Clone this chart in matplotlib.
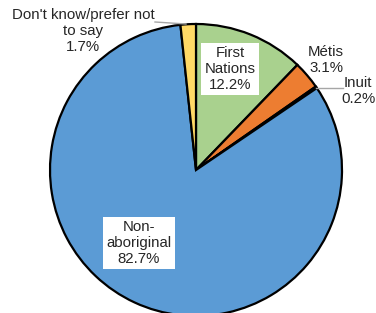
import matplotlib
matplotlib.use("Agg")
import matplotlib.pyplot as plt

labels = ["First\nNations", "Métis", "Inuit", "Non-\naboriginal", "Don't know/prefer not\nto say"]
values = [12.2, 3.1, 0.2, 82.7, 1.7]
colors = ["#A9D18E", "#ED7D31", "#203864", "#5B9BD5", "#FFD966"]

plt.rcParams['font.family'] = ['Liberation Sans', 'DejaVu Sans']

W, H = 376, 313
cx, cy, R = 196, 170, 146
fig = plt.figure(figsize=(W / 100, H / 100), dpi=100)
ax = fig.add_axes([0, 0, 1, 1])

ax.pie(values, colors=colors, startangle=90, counterclock=False,
       wedgeprops=dict(edgecolor='black', linewidth=1.6), radius=1.0)

ax.set_xlim(-cx / R, (W - cx) / R)
ax.set_ylim(-(H - cy) / R, cy / R)
ax.set_aspect('auto')
ax.axis('off')

def p(px, py):
    return ((px - cx) / R, (cy - py) / R)

fs = 10.8
box = dict(boxstyle='square,pad=0.25', facecolor='white', edgecolor='none')
ax.text(*p(230, 69), f"{labels[0]}\n{values[0]:.1f}%", ha='center', va='center',
        fontsize=fs, color='#262626', bbox=box, linespacing=1.15)
ax.text(*p(326, 60), f"{labels[1]}\n{values[1]:.1f}%", ha='center', va='center',
        fontsize=fs, color='#262626', linespacing=1.15)
ax.text(*p(358, 91), f"{labels[2]}\n{values[2]:.1f}%", ha='center', va='center',
        fontsize=fs, color='#262626', linespacing=1.15)
ax.text(*p(139, 243), f"{labels[3]}\n{values[3]:.1f}%", ha='center', va='center',
        fontsize=fs, color='#262626', bbox=box, linespacing=1.15)
ax.text(*p(83, 31), f"{labels[4]}\n{values[4]:.1f}%", ha='center', va='center',
        fontsize=fs, color='#262626', linespacing=1.15)

# leader lines
x1, y1 = p(316, 88); x2, y2 = p(343, 88)
ax.plot([x1, x2], [y1, y2], color='#A6A6A6', lw=1)
x1, y1 = p(155, 22); x2, y2 = p(186, 24)
ax.plot([x1, x2], [y1, y2], color='#A6A6A6', lw=1)

fig.savefig("out.png", dpi=100)
